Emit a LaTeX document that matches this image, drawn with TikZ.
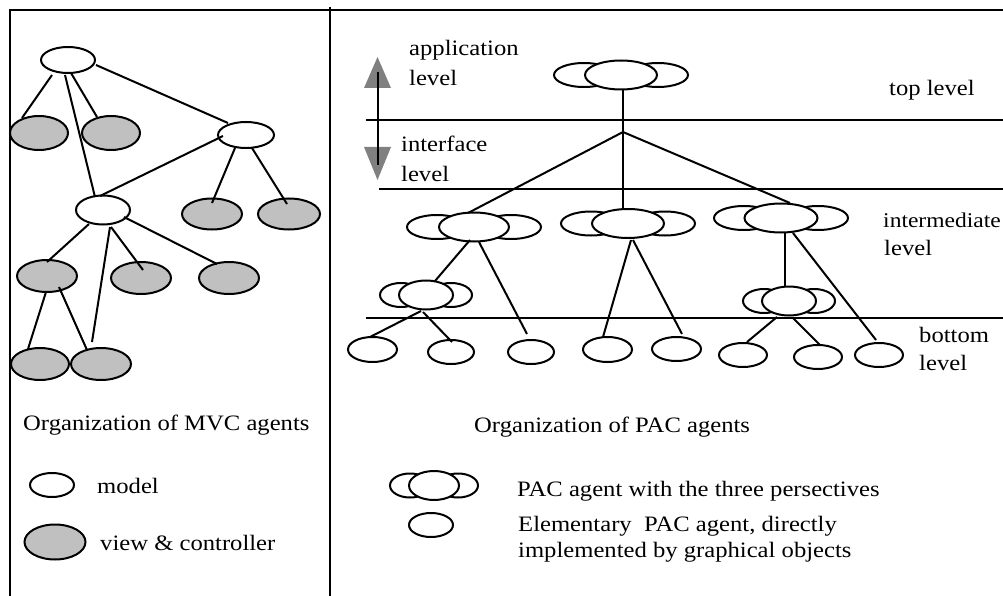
\documentclass[tikz,border=0pt]{standalone}
\usepackage{fontspec}
\setmainfont{Liberation Serif}[FakeStretch=1.12]
\usetikzlibrary{shapes.geometric,calc}
\definecolor{vcgray}{RGB}{192,192,192}
\definecolor{arrgray}{RGB}{128,128,128}
\tikzset{
  ell/.style={ellipse, draw, line width=2pt, fill=white, inner sep=0pt},
  vc/.style={ell, fill=vcgray},
  sz/.style 2 args={minimum width=#1pt, minimum height=#2pt},
  link/.style={line width=2pt},
  frameline/.style={line width=2pt},
  levelline/.style={line width=2pt},
  txt/.style={anchor=base west, inner sep=0pt, font=\fontsize{22}{26}\selectfont},
}
\newcommand{\pacagent}[6]{% name, x, y, middle width, side offset, side width
  \node[ell, sz={#6}{24}] at ({#2-#5},#3) {};
  \node[ell, sz={#6}{24}] at ({#2+#5},#3) {};
  \node[ell, sz={#4}{29}] (#1) at (#2,#3) {};
}
\begin{document}
\begin{tikzpicture}[x=1pt,y=-1pt]
\useasboundingbox (0,0) rectangle (1003,596);
% frame
\draw[frameline] (10,596) -- (10,10) -- (1003,10);
\draw[frameline] (330,7) -- (330,596);

% ---------------- MVC tree ----------------
\node[ell, sz={54}{26}] (root) at (68,60) {};
\node[vc, sz={58}{34}] (g1) at (39,133) {};
\node[vc, sz={58}{34}] (g2) at (111,133) {};
\node[ell, sz={56}{26}] (rw) at (246,135) {};
\node[ell, sz={54}{29}] (mid) at (103,210) {};
\node[vc, sz={60}{31}] (gr1) at (212,214) {};
\node[vc, sz={62}{31}] (gr2) at (289,214) {};
\node[vc, sz={60}{32}] (ggl) at (47,276) {};
\node[vc, sz={60}{32}] (gm) at (141,278) {};
\node[vc, sz={60}{32}] (gr) at (229,278) {};
\node[vc, sz={58}{32}] (gb1) at (40,364) {};
\node[vc, sz={60}{32}] (gb2) at (101,364) {};

\draw[link] ($(root)+(-16,15)$) -- ($(g1)+(-17,-15)$);
\draw[link] ($(root)+(3,13)$) -- ($(g2)+(-14,-16)$);
\draw[link] ($(root)+(-3,15)$) -- ($(mid)+(-8,-13)$);
\draw[link] ($(root)+(28,5)$) -- ($(rw)+(-18,-12)$);
\draw[link] ($(rw)+(-23,1)$) -- ($(mid)+(-3,-14)$);
\draw[link] ($(rw)+(-11,13)$) -- ($(gr1)+(0,-11)$);
\draw[link] ($(rw)+(6,13)$) -- ($(gr2)+(-2,-10)$);
\draw[link] ($(mid)+(-14,14)$) -- ($(ggl)+(0,-14)$);
\draw[link] ($(mid)+(7,17)$) -- ($(gb2)+(-9,-22)$);
\draw[link] ($(mid)+(8,17)$) -- ($(gm)+(2,-8)$);
\draw[link] ($(mid)+(21,7)$) -- ($(gr)+(-12,-14)$);
\draw[link] ($(ggl)+(-1,16)$) -- ($(gb1)+(-12,-15)$);
\draw[link] ($(ggl)+(12,11)$) -- ($(gb2)+(-14,-14)$);

\node[txt] (mvct) at (23,430) {Organization of MVC agents};
\node[ell, sz={44}{24}] (lm) at (52,485) {};
\node[txt] (lmt) at (97,493) {model};
\node[vc, sz={61}{35}] (lv) at (55,542) {};
\node[txt] (lvt) at (100,550) {view \& controller};

% ---------------- PAC ----------------
% level lines
\draw[levelline] (366,120) -- (1003,120);
\draw[levelline] (379,189) -- (1003,189);
\draw[levelline] (366,318) -- (1003,318);

% double arrow
\coordinate (arrtop) at (378,72);
\coordinate (arrbot) at (378,165);
\fill[arrgray] (364,88) -- (391,88) -- (377.5,57) -- cycle;
\fill[arrgray] (364,147) -- (391,147) -- (377.5,180) -- cycle;
\draw[line width=2.2pt] (arrtop) -- (arrbot);

\node[txt] (t1) at (409,56) {application};
\node[txt] (t2) at (409,86) {level};
\node[txt] (t3) at (401,152) {interface};
\node[txt] (t4) at (401,182) {level};
\node[txt] (t5) at (889,96) {top level};
\node[txt, font=\fontsize{21}{25}\selectfont] (t6) at (883,227) {intermediate};
\node[txt] (t7) at (884,255) {level};
\node[txt] (t8) at (919,342) {bottom};
\node[txt] (t9) at (919,370) {level};

\pacagent{top}{621}{75}{72}{37}{60}
\pacagent{il}{474}{227}{70}{37}{60}
\pacagent{im}{628}{223.5}{72}{37}{60}
\pacagent{ir}{781}{218}{73}{37}{60}
\pacagent{sl}{426}{295}{54}{25}{42}
\pacagent{sr}{789}{301}{54}{25}{42}

\node[ell, sz={49}{25}] (e1) at (372.5,349.5) {};
\node[ell, sz={46}{24}] (e2) at (451,352) {};
\node[ell, sz={46}{24}] (e3) at (531,352) {};
\node[ell, sz={49}{25}] (e4) at (607.5,349.5) {};
\node[ell, sz={49}{24}] (e5) at (676.5,349) {};
\node[ell, sz={48}{24}] (e6) at (743,355) {};
\node[ell, sz={48}{24}] (e7) at (818,357) {};
\node[ell, sz={48}{24}] (e8) at (879,355) {};

\coordinate (br) at (623,132);
\draw[link] ($(top)+(2,14)$) -- ($(im)+(-5,-14.5)$);
\draw[link] (br) -- ($(il)+(-6,-14)$);
\draw[link] (br) -- ($(ir)+(9,-15)$);
\draw[link] ($(il)+(-4,13)$) -- ($(sl)+(9,-14)$);
\draw[link] ($(il)+(5,15)$) -- ($(e3)+(-4,-18)$);
\draw[link] ($(sl)+(-5,16)$) -- ($(e1)+(-2.5,-12.5)$);
\draw[link] ($(sl)+(-3,17)$) -- ($(e2)+(1,-10)$);
\draw[link] ($(im)+(3,16.5)$) -- ($(e4)+(-4.5,-12.5)$);
\draw[link] ($(im)+(5,16.5)$) -- ($(e5)+(5.5,-15)$);
\draw[link] ($(ir)+(4,15)$) -- ($(sr)+(-4,-14)$);
\draw[link] ($(ir)+(12,15)$) -- ($(e8)+(-3,-15)$);
\draw[link] ($(sr)+(-12,16)$) -- ($(e6)+(4,-13)$);
\draw[link] ($(sr)+(4,17)$) -- ($(e7)+(2,-12)$);

\node[txt] (pact) at (474,432) {Organization of PAC agents};
\pacagent{lp}{434}{485.5}{50}{24}{40}
\node[txt] (lpt) at (517,496) {PAC agent with the three persectives};
\node[ell, sz={44}{24}] (le) at (431,525) {};
\node[txt] (let1) at (518,531) {Elementary\ \ PAC agent, directly};
\node[txt] (let2) at (518,557) {implemented by graphical objects};
\end{tikzpicture}
\end{document}
